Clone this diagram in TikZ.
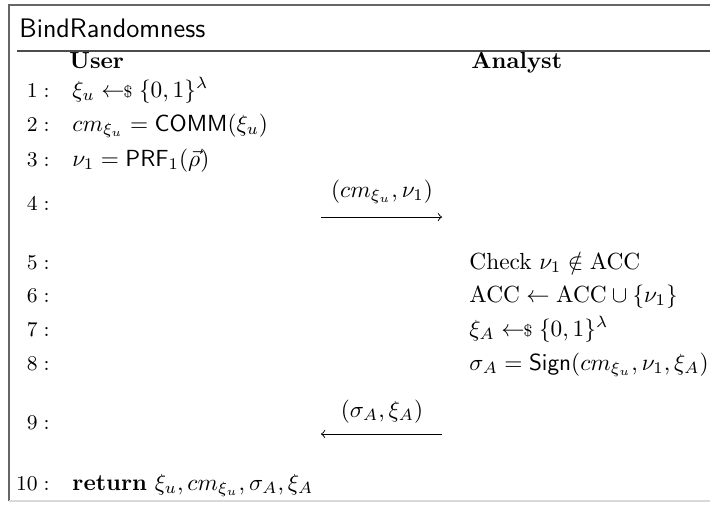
\documentclass[tikz,border=0pt]{standalone}
\usepackage{amsmath,amssymb}
\newcommand{\smpl}{\mathrel{\leftarrow\mkern-6mu{\scriptstyle\$}}}
\begin{document}
\begin{tikzpicture}[x=0.4292pt,y=-0.4292pt,
  lnum/.style={anchor=base east, inner sep=0pt, font=\small},
  txt/.style={anchor=base west, inner sep=0pt},
  hdr/.style={anchor=base west, inner sep=0pt, font=\bfseries},
  msg/.style={anchor=base, inner sep=0pt},
  msgarrow/.style={line width=0.4pt},
  frameline/.style={line width=0.6pt, draw=black!60}]
\useasboundingbox (0,0) rectangle (710,505);
% frame
\draw[frameline] (9,501) -- (9,5) -- (710,5);
\draw[draw=black!15, line width=0.6pt] (9,501) -- (710,501);
\draw[draw=black!70, line width=0.6pt] (17,51) -- (710,51);
\node[anchor=base west, inner sep=0pt, font=\sffamily\fontsize{11.5}{13}\selectfont] (title) at (19,37) {BindRandomness};
% headers
\node[hdr] (user) at (69,68) {User};
\node[hdr] (analyst) at (471,68) {Analyst};
% line numbers
\node[lnum] (n1) at (50,97) {$1:$};
\node[lnum] (n2) at (50,131) {$2:$};
\node[lnum] (n3) at (50,166) {$3:$};
\node[lnum] (n4) at (50,210) {$4:$};
\node[lnum] (n5) at (50,269) {$5:$};
\node[lnum] (n6) at (50,302) {$6:$};
\node[lnum] (n7) at (50,336) {$7:$};
\node[lnum] (n8) at (50,370) {$8:$};
\node[lnum] (n9) at (50,429) {$9:$};
\node[lnum] (n10) at (50,490) {$10:$};
% user side
\node[txt] (u1) at (72,97) {$\xi_u \smpl \{0,1\}^{\lambda}$};
\node[txt] (u2) at (72,131) {$cm_{\xi_u} = \mathsf{COMM}(\xi_u)$};
\node[txt] (u3) at (72,166) {$\nu_1 = \mathsf{PRF}_1(\vec{\rho})$};
\node[txt] (u10) at (72,490) {$\textbf{return}\ \xi_u, cm_{\xi_u}, \sigma_A, \xi_A$};
% analyst side
\node[txt] (a5) at (469,269) {Check $\nu_1 \notin \mathrm{ACC}$};
\node[txt] (a6) at (469,302) {$\mathrm{ACC} \leftarrow \mathrm{ACC} \cup \{\nu_1\}$};
\node[txt] (a7) at (469,336) {$\xi_A \smpl \{0,1\}^{\lambda}$};
\node[txt] (a8) at (469,370) {$\sigma_A = \mathsf{Sign}(cm_{\xi_u}, \nu_1, \xi_A)$};
% messages
\node[msg] (m1) at (382,197) {$(cm_{\xi_u}, \nu_1)$};
\coordinate (m1s) at (321,217);
\coordinate (m1e) at (442,217);
\draw[msgarrow,->] (m1s) -- (m1e);
\node[msg] (m2) at (382,417) {$(\sigma_A, \xi_A)$};
\coordinate (m2s) at (442,434);
\coordinate (m2e) at (321,434);
\draw[msgarrow,->] (m2s) -- (m2e);
\end{tikzpicture}
\end{document}
